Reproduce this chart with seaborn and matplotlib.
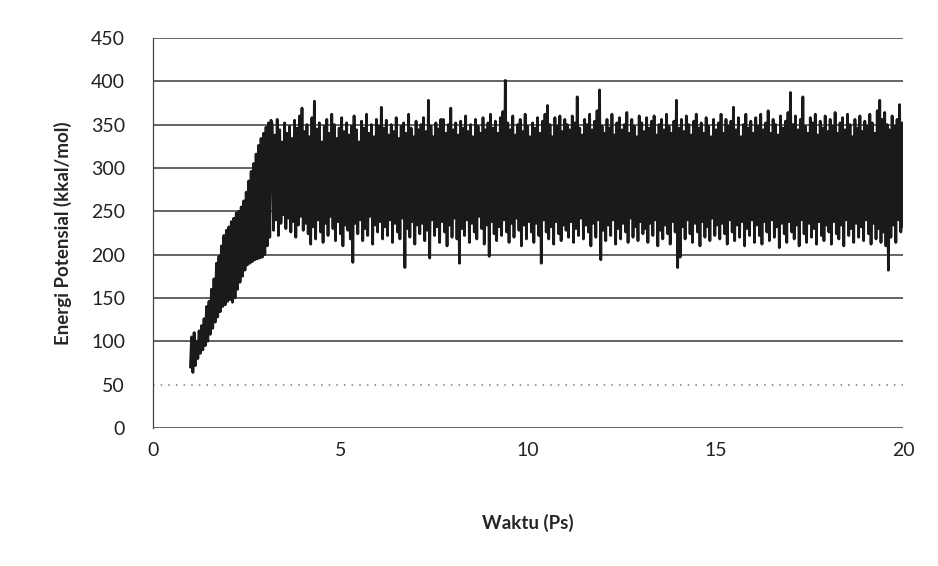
import matplotlib
matplotlib.use("Agg")
import matplotlib.pyplot as plt
import numpy as np
import seaborn as sns

# potential energy (kcal/mol), t = 1 ps .. 20 ps
energy_ramp = [70, 105, 64, 110, 72, 100, 80, 112, 86, 118, 90, 126, 95, 140, 100, 146,
               108, 160, 115, 172, 122, 190, 128, 198, 134, 210, 140, 222, 142, 228, 146, 232,
               148, 238, 145, 242, 150, 248, 160, 250, 168, 255, 175, 262, 182, 272, 188, 285,
               190, 296, 192, 305, 194, 316, 195, 326, 196, 334, 197, 340, 200, 347, 210, 352,
               220, 355]

# equilibrated part: upper and lower swings of the trace
energy_high = [350, 338, 356, 344, 330, 352, 340, 348, 334, 355, 346, 360, 369, 342, 350,
               336, 358, 377, 345, 352, 330, 348, 356, 340, 362, 350, 334, 346, 358, 342,
               352, 338, 348, 360, 344, 330, 354, 346, 362, 340, 350, 336, 356, 348, 370,
               346, 355, 338, 350, 342, 358, 334, 348, 352, 340, 362, 346, 336, 354, 344,
               350, 358, 342, 378, 348, 336, 352, 345, 356, 356, 340, 350, 369, 344, 352,
               338, 354, 346, 360, 342, 350, 336, 356, 348, 340, 358, 344, 352, 362, 346,
               354, 340, 358, 365, 401, 352, 344, 360, 338, 350, 356, 342, 362, 348, 336,
               352, 346, 358, 340, 354, 362, 372, 350, 336, 358, 348, 360, 342, 356, 350,
               344, 360, 352, 382, 346, 338, 356, 350, 362, 344, 354, 366, 390, 348, 340,
               356, 346, 362, 338, 352, 358, 344, 350, 364, 340, 356, 348, 336, 360, 352,
               342, 358, 346, 354, 360, 338, 350, 356, 344, 362, 348, 340, 354, 378, 346,
               356, 342, 360, 350, 338, 354, 362, 346, 352, 340, 358, 348, 336, 356, 344,
               352, 362, 340, 356, 348, 354, 370, 344, 358, 336, 350, 362, 346, 354, 340,
               358, 348, 362, 344, 352, 366, 340, 356, 350, 338, 360, 346, 354, 364, 387,
               350, 360, 344, 356, 382, 348, 340, 358, 352, 362, 338, 354, 346, 360, 342,
               356, 348, 364, 340, 352, 358, 344, 362, 350, 336, 356, 346, 360, 342, 354,
               348, 362, 352, 340, 366, 378, 356, 364, 350, 344, 360, 348, 356, 373, 352]

energy_low = [228, 240, 222, 236, 246, 230, 242, 226, 238, 220, 234, 244, 228, 236, 224,
              212, 232, 218, 240, 226, 214, 236, 222, 244, 230, 216, 238, 224, 210, 234,
              228, 218, 191, 236, 224, 240, 216, 230, 222, 244, 212, 234, 226, 238, 218,
              232, 222, 240, 214, 236, 226, 218, 242, 185, 230, 220, 238, 212, 234, 224,
              236, 216, 228, 196, 240, 222, 232, 214, 238, 226, 210, 234, 220, 242, 218,
              190, 230, 222, 240, 214, 236, 226, 218, 244, 230, 212, 234, 198, 238, 224,
              216, 232, 222, 240, 226, 214, 236, 220, 242, 228, 210, 234, 218, 238, 226,
              214, 236, 222, 190, 240, 226, 218, 232, 212, 238, 224, 216, 234, 228, 220,
              238, 214, 230, 222, 242, 218, 234, 226, 210, 236, 220, 240, 194, 228, 216,
              234, 222, 240, 212, 230, 218, 236, 226, 214, 242, 220, 232, 216, 238, 224,
              230, 214, 236, 222, 240, 210, 228, 218, 234, 224, 212, 238, 226, 185, 197,
              232, 218, 240, 224, 214, 236, 226, 210, 238, 220, 232, 216, 242, 222, 234,
              218, 236, 224, 212, 240, 226, 216, 234, 220, 238, 210, 230, 222, 240, 214,
              234, 222, 212, 238, 226, 216, 240, 220, 232, 208, 236, 224, 214, 238, 226,
              218, 234, 210, 240, 224, 214, 236, 220, 230, 212, 238, 222, 216, 234, 226,
              212, 238, 224, 218, 234, 210, 240, 222, 230, 214, 236, 220, 232, 216, 240,
              224, 212, 236, 218, 230, 214, 226, 210, 182, 220, 234, 214, 240, 226, 232]

x_ticks = [0, 5, 10, 15, 20]
y_ticks = [0, 50, 100, 150, 200, 250, 300, 350, 400, 450]

plateau = np.column_stack([energy_high, energy_low]).ravel()
energy = np.concatenate([energy_ramp, plateau])
time = np.linspace(1, 20, len(energy))

sns.set_style("white")
plt.rcParams['font.family'] = ['Lato', 'DejaVu Sans']

fig = plt.figure(figsize=(9.38, 5.66), dpi=100)
ax = fig.add_axes([0.163, 0.244, 0.8, 0.689])

sns.lineplot(x=time, y=energy, ax=ax, color='#1a1a1a', linewidth=2.0, estimator=None)

ax.set_xlim(0, 20)
ax.set_ylim(0, 450)
ax.set_xticks(x_ticks)
ax.set_yticks(y_ticks)
ax.tick_params(axis='both', length=0, labelsize=14, colors='#222222')
ax.tick_params(axis='y', pad=20)
ax.tick_params(axis='x', pad=10)

ax.yaxis.grid(True, color='#3a3a3a', linewidth=1.1)
ax.xaxis.grid(False)
ax.set_axisbelow(True)
ax.get_ygridlines()[1].set_linestyle((0, (1, 4)))
ax.get_ygridlines()[1].set_color('#777777')

for side in ['top', 'right', 'bottom']:
    ax.spines[side].set_visible(False)
ax.spines['left'].set_color('#444444')
ax.spines['left'].set_linewidth(0.9)

ax.set_xlabel('Waktu (Ps)', fontsize=13.5, fontweight='bold', labelpad=40)
ax.set_ylabel('Energi Potensial (kkal/mol)', fontsize=13.5, fontweight='bold', labelpad=14)

plt.savefig('out.png', dpi=100)
